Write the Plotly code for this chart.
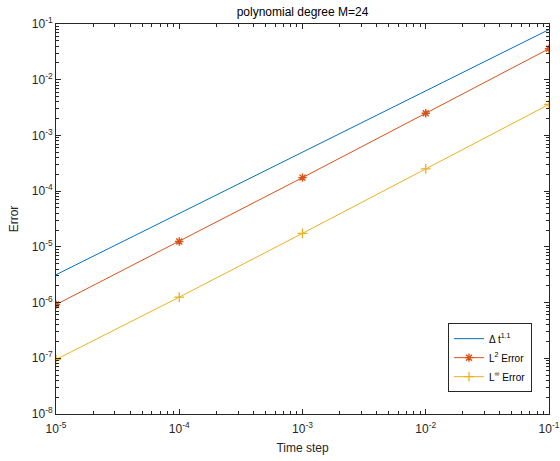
import plotly.graph_objects as go

dt = [1e-5, 1e-4, 1e-3, 1e-2, 1e-1]
ref_line = [3.16e-6, 3.98e-5, 5.01e-4, 6.31e-3, 7.94e-2]
l2_err = [9.2e-7, 1.25e-5, 1.75e-4, 2.5e-3, 3.6e-2]
linf_err = [9.5e-8, 1.25e-6, 1.75e-5, 2.5e-4, 3.6e-3]

x_tickvals = [1e-5, 1e-4, 1e-3, 1e-2, 1e-1]
x_ticktext = ["10<sup>-5</sup>", "10<sup>-4</sup>", "10<sup>-3</sup>", "10<sup>-2</sup>", "10<sup>-1</sup>"]
y_tickvals = [1e-8, 1e-7, 1e-6, 1e-5, 1e-4, 1e-3, 1e-2, 1e-1]
y_ticktext = ["10<sup>-8</sup>", "10<sup>-7</sup>", "10<sup>-6</sup>", "10<sup>-5</sup>",
              "10<sup>-4</sup>", "10<sup>-3</sup>", "10<sup>-2</sup>", "10<sup>-1</sup>"]
minor_mult = [2, 3, 4, 5, 6, 7, 8, 9]

x_minor = [m * d for d in x_tickvals[:-1] for m in minor_mult]
y_minor = [m * d for d in y_tickvals[:-1] for m in minor_mult]

FONT = "Liberation Sans, Arial, Helvetica, sans-serif"
AX = "#262626"

fig = go.Figure()
fig.add_trace(go.Scatter(x=dt, y=ref_line, mode="lines", name="Δ t<sup>1.1</sup>",
                         line=dict(color="#0072BD", width=1)))
fig.add_trace(go.Scatter(x=dt, y=l2_err, mode="lines+markers", name="L<sup>2</sup> Error",
                         line=dict(color="#D95319", width=1),
                         marker=dict(symbol="asterisk-open", size=7, line=dict(color="#D95319", width=1.4))))
fig.add_trace(go.Scatter(x=dt, y=linf_err, mode="lines+markers", name="L<sup>∞</sup> Error",
                         line=dict(color="#EDB120", width=1),
                         marker=dict(symbol="cross-thin-open", size=7, line=dict(color="#EDB120", width=1.3))))

def axis_common(minor_vals):
    return dict(showline=True, linecolor=AX, linewidth=1, mirror="allticks",
                ticks="inside", ticklen=5, tickcolor=AX, tickwidth=1,
                showgrid=False, zeroline=False, automargin=False,
                tickfont=dict(family=FONT, size=12, color=AX),
                minor=dict(ticks="inside", ticklen=3, tickcolor=AX, tickvals=minor_vals,
                           showgrid=False))

fig.update_xaxes(type="log", range=[-5, -1], tickvals=x_tickvals, ticktext=x_ticktext,
                 ticklabelstandoff=4,
                 title=dict(text="Time step", font=dict(family=FONT, size=12, color=AX), standoff=8),
                 **axis_common(x_minor))
fig.update_yaxes(type="log", range=[-8, -1], tickvals=y_tickvals, ticktext=y_ticktext,
                 title=dict(text="Error", font=dict(family=FONT, size=12, color=AX), standoff=10),
                 **axis_common(y_minor))

fig.update_layout(
    width=560, height=461,
    margin=dict(l=56, r=11, t=24, b=47),
    paper_bgcolor="white", plot_bgcolor="white",
    title=dict(text="polynomial degree M=24", x=(56 + 549) / 2 / 560, xanchor="center",
               y=1 - 12 / 461, yanchor="middle", yref="container",
               font=dict(family=FONT, size=12, color="black")),
    legend=dict(x=0.9655, xanchor="right", y=0.056, yanchor="bottom",
                bgcolor="white", bordercolor=AX, borderwidth=1,
                font=dict(family=FONT, size=10, color="black"),
                tracegroupgap=0, itemwidth=30),
    showlegend=True,
)

fig.write_html("out.html")
